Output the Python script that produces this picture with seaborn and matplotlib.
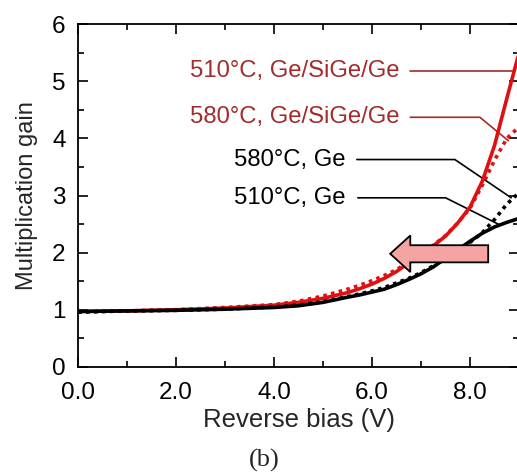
import numpy as np
import pandas as pd
import matplotlib
matplotlib.use('Agg')
import matplotlib.pyplot as plt
from matplotlib.patches import FancyArrow
from matplotlib.ticker import MultipleLocator, FormatStrFormatter
import seaborn as sns

# gain curves
bias = [0.0, 1.0, 2.0, 3.0, 4.0, 4.5, 5.0, 5.5, 5.75, 6.0, 6.25, 6.5, 6.75, 7.0, 7.25,
        7.5, 7.75, 8.0, 8.25, 8.5, 8.75, 9.0]
gain_510_gsg = [0.97, 0.98, 1.00, 1.03, 1.08, 1.13, 1.20, 1.30, 1.37, 1.45, 1.55, 1.67, 1.82, 1.97, 2.12,
                2.29, 2.52, 2.80, 3.25, 3.88, 4.70, 5.50]
gain_580_gsg = [0.96, 0.98, 1.00, 1.04, 1.09, 1.15, 1.24, 1.36, 1.43, 1.51, 1.60, 1.70, 1.84, 1.98, 2.13,
                2.30, 2.52, 2.78, 3.18, 3.62, 4.00, 4.20]
gain_510_ge = [0.97, 0.98, 0.99, 1.01, 1.04, 1.07, 1.13, 1.22, 1.26, 1.31, 1.36, 1.44, 1.53, 1.63, 1.75,
               1.90, 2.05, 2.20, 2.34, 2.45, 2.53, 2.60]
gain_580_ge = [0.96, 0.98, 0.99, 1.01, 1.05, 1.08, 1.14, 1.23, 1.28, 1.33, 1.39, 1.47, 1.55, 1.65, 1.77,
               1.92, 2.05, 2.18, 2.35, 2.58, 2.85, 3.05]

series_names = ['510°C, Ge/SiGe/Ge', '580°C, Ge/SiGe/Ge', '580°C, Ge', '510°C, Ge']
series_values = [gain_510_gsg, gain_580_gsg, gain_580_ge, gain_510_ge]
line_colors = ['#e01010', '#e01010', 'black', 'black']
line_dashes = [(), (1, 1.2), (1, 1.2), ()]
label_colors = ['#a32b2b', '#a32b2b', 'black', 'black']

# label text anchor (right edge) and leader line path (data coords)
label_pos = [(6.57, 5.18), (6.57, 4.37), (5.45, 3.63), (5.45, 2.96)]
leader_x = [[6.78, 8.92], [6.78, 8.20, 8.78], [5.69, 7.69, 8.84], [5.71, 7.50, 8.62]]
leader_y = [[5.18, 5.18], [4.37, 4.37, 3.96], [3.63, 3.63, 2.96], [2.96, 2.96, 2.48]]

df = pd.DataFrame({'bias': bias * 4,
                   'gain': sum(series_values, []),
                   'sample': np.repeat(series_names, len(bias))})

sns.set_theme(style='ticks')
plt.rcParams['font.family'] = ['Liberation Sans', 'DejaVu Sans']
plt.rcParams['xtick.direction'] = 'in'
plt.rcParams['ytick.direction'] = 'in'

fig = plt.figure(figsize=(5.17, 4.74), dpi=100)
ax = fig.add_axes([0.151, 0.226, 0.853, 0.723])

sns.lineplot(data=df, x='bias', y='gain', hue='sample', style='sample',
             hue_order=series_names, style_order=series_names,
             palette=dict(zip(series_names, line_colors)),
             dashes=dict(zip(series_names, line_dashes)),
             linewidth=2.6, legend=False, ax=ax, zorder=3)

for name, (tx, ty), lx, ly, c in zip(series_names, label_pos, leader_x, leader_y, label_colors):
    ax.text(tx, ty, name, color=c, fontsize=17.2, ha='right', va='center')
    ax.plot(lx, ly, color=c, lw=1.2, zorder=2)

# pink arrow pointing to lower bias
ax.add_patch(FancyArrow(8.37, 1.98, -2.0, 0, width=0.3, head_width=0.64, head_length=0.41,
                        length_includes_head=True, facecolor='#f5a3a3', edgecolor='black',
                        lw=1.3, zorder=4))

ax.set_xlim(0, 9)
ax.set_ylim(0, 6)
ax.xaxis.set_major_locator(MultipleLocator(2))
ax.xaxis.set_minor_locator(MultipleLocator(1))
ax.yaxis.set_major_locator(MultipleLocator(1))
ax.yaxis.set_minor_locator(MultipleLocator(0.5))
ax.xaxis.set_major_formatter(FormatStrFormatter('%.1f'))
ax.tick_params(which='both', top=True, right=True, width=1.2, labelsize=17.5, colors='black')
ax.tick_params(axis='x', pad=11)
ax.tick_params(axis='y', pad=9)
ax.tick_params(which='major', length=7)
ax.tick_params(which='minor', length=4)
for s in ax.spines.values():
    s.set_linewidth(1.3)
    s.set_color('black')

ax.set_xlabel('Reverse bias (V)', fontsize=18.5, labelpad=3)
ax.set_ylabel('Multiplication gain', fontsize=17, labelpad=10)

fig.text(0.512, 0.004, '(b)', fontsize=19, family=['Liberation Serif', 'DejaVu Serif'],
         ha='center', va='bottom')

fig.savefig('out.png', dpi=100)
